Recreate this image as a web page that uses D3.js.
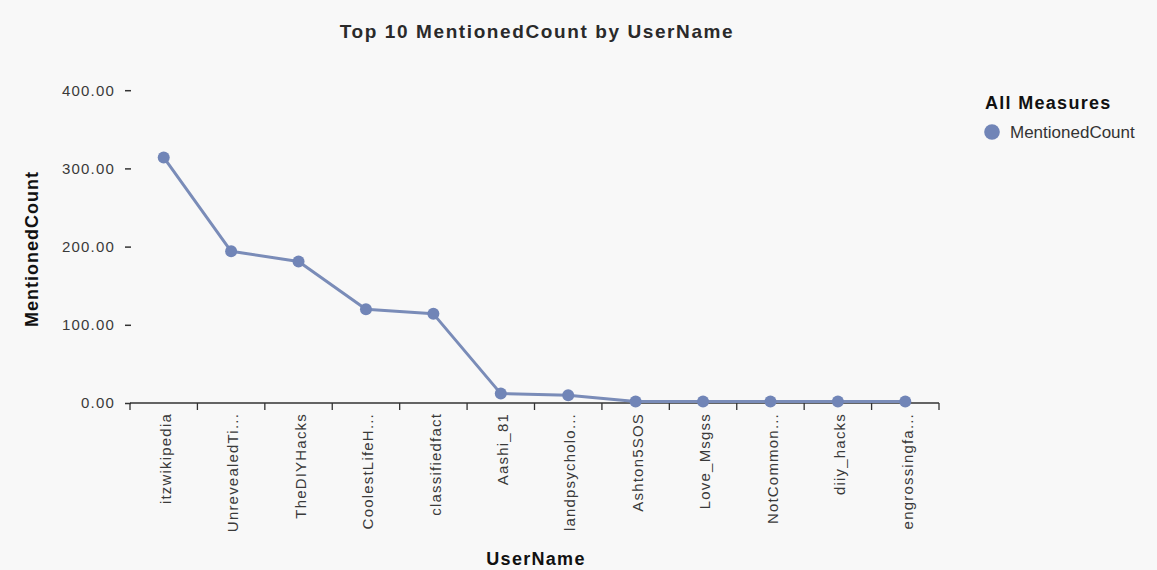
<!DOCTYPE html>
<html>
<head>
<meta charset="utf-8">
<script src="https://cdn.jsdelivr.net/npm/d3@7"></script>
<style>
  html, body { margin: 0; padding: 0; background: #f8f8f8; }
  svg { display: block; font-family: Arial, "Liberation Sans", sans-serif; }
</style>
</head>
<body>
<svg id="chart" width="1157" height="570"></svg>
<script>
// Top 10 users by mention count
const userNames = ["itzwikipedia", "UnrevealedTi...", "TheDIYHacks", "CoolestLifeH...", "classifiedfact",
  "Aashi_81", "landpsycholo...", "Ashton5SOS", "Love_Msgss", "NotCommon...", "diiy_hacks", "engrossingfa..."];
const mentionedCount = [314, 194, 181, 120, 114, 12, 10, 2, 2, 2, 2, 2];
const yTicks = [0, 100, 200, 300, 400];

const seriesName = "MentionedCount";
const lineColor = "#7a8cb8";
const dotColor = "#7185b7";

const svg = d3.select("#chart");
svg.append("rect").attr("width", 1157).attr("height", 570).attr("fill", "#f8f8f8");

const plotLeft = 131, plotRight = 939, plotTop = 90.2, plotBottom = 403;

const x = d3.scaleBand().domain(userNames).range([plotLeft - 1, plotRight]).padding(0);
const y = d3.scaleLinear().domain([0, 400]).range([plotBottom, plotTop]);

// Title
svg.append("text")
  .attr("x", 537).attr("y", 38)
  .attr("text-anchor", "middle")
  .style("font-size", "19px").style("font-weight", "bold")
  .style("letter-spacing", "1.6px")
  .attr("fill", "#2a2a2a")
  .text("Top 10 MentionedCount by UserName");

// Y axis: ticks + labels only
const yAxis = svg.append("g")
  .attr("transform", `translate(${plotLeft},0)`)
  .call(d3.axisLeft(y).tickValues(yTicks).tickFormat(d3.format(".2f")).tickSize(6).tickPadding(10));
yAxis.select(".domain").remove();
yAxis.selectAll(".tick line").attr("stroke", "#333").attr("stroke-width", 1.5);
yAxis.selectAll(".tick text")
  .attr("fill", "#3a3a3a")
  .style("font-size", "15px")
  .style("letter-spacing", "1.2px")
  .style("font-family", "Arial, 'Liberation Sans', sans-serif");

// X axis: baseline, boundary ticks, rotated category labels
const xg = svg.append("g");
xg.append("line")
  .attr("x1", x.range()[0]).attr("x2", x.range()[1])
  .attr("y1", plotBottom).attr("y2", plotBottom)
  .attr("stroke", "#333").attr("stroke-width", 1.5);
const boundaries = userNames.map(d => x(d)).concat([x.range()[1]]);
xg.selectAll("line.bt").data(boundaries).join("line")
  .attr("class", "bt")
  .attr("x1", d => d).attr("x2", d => d)
  .attr("y1", plotBottom).attr("y2", plotBottom + 7)
  .attr("stroke", "#333").attr("stroke-width", 1.3);
xg.selectAll("text.xl").data(userNames).join("text")
  .attr("class", "xl")
  .attr("transform", d => `translate(${x(d) + x.bandwidth() / 2 + 2},${plotBottom + 10}) rotate(-90)`)
  .attr("text-anchor", "end")
  .attr("dy", "0.35em")
  .attr("fill", "#3a3a3a")
  .style("font-size", "15px")
  .style("letter-spacing", "1.2px")
  .text(d => d);

// Axis titles
svg.append("text")
  .attr("transform", `translate(38,249) rotate(-90)`)
  .attr("text-anchor", "middle")
  .style("font-size", "18px").style("font-weight", "bold")
  .style("letter-spacing", "1px")
  .attr("fill", "#111")
  .text("MentionedCount");

svg.append("text")
  .attr("x", 536).attr("y", 565)
  .attr("text-anchor", "middle")
  .style("font-size", "18px").style("font-weight", "bold")
  .style("letter-spacing", "1.3px")
  .attr("fill", "#111")
  .text("UserName");

// Line and points
const data = userNames.map((d, i) => ({ name: d, value: mentionedCount[i] }));
const cx = d => x(d.name) + x.bandwidth() / 2;

svg.append("path")
  .datum(data)
  .attr("fill", "none")
  .attr("stroke", lineColor)
  .attr("stroke-width", 3)
  .attr("stroke-linejoin", "round")
  .attr("d", d3.line().x(cx).y(d => y(d.value)));

svg.selectAll("circle.pt").data(data).join("circle")
  .attr("class", "pt")
  .attr("cx", cx)
  .attr("cy", d => y(d.value))
  .attr("r", 6)
  .attr("fill", dotColor);

// Legend
const legend = svg.append("g");
legend.append("text")
  .attr("x", 985).attr("y", 109)
  .style("font-size", "18px").style("font-weight", "bold")
  .style("letter-spacing", "1.3px")
  .attr("fill", "#111")
  .text("All Measures");
legend.append("circle")
  .attr("cx", 992).attr("cy", 132).attr("r", 7.8)
  .attr("fill", dotColor);
legend.append("text")
  .attr("x", 1010).attr("y", 138)
  .style("font-size", "17px")
  .attr("fill", "#333")
  .text(seriesName);
</script>
</body>
</html>
